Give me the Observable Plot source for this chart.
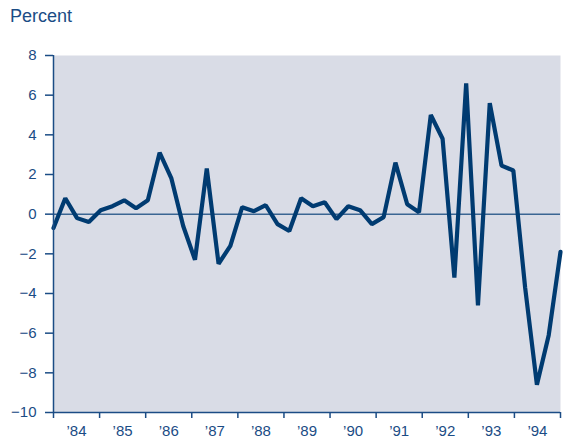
<!DOCTYPE html>
<html><head><meta charset="utf-8">
<script src="https://cdn.jsdelivr.net/npm/d3@7"></script>
<script src="https://cdn.jsdelivr.net/npm/@observablehq/plot@0.6"></script>
<style>
body{margin:0;background:#fff;font-family:"Liberation Sans",Arial,sans-serif}
#wrap{position:relative;width:563px;height:445px}
#title{position:absolute;left:10px;top:7px;font-size:18px;line-height:1;color:#1b4c85}
</style></head><body><div id="wrap"><div id="title">Percent</div></div>
<script>
const startYear = 1984, endYear = 1995;
// quarterly values, 1984 Q1 .. 1994 Q4 (percent)
const values = [-0.7, 0.8, -0.2, -0.4, 0.2, 0.4, 0.7, 0.3, 0.7, 3.1,
  1.8, -0.6, -2.3, 2.3, -2.5, -1.6, 0.35, 0.15, 0.45, -0.5,
  -0.85, 0.8, 0.4, 0.6, -0.25, 0.4, 0.2, -0.5, -0.15, 2.6,
  0.5, 0.1, 5.0, 3.8, -3.2, 6.6, -4.6, 5.6, 2.45, 2.2,
  -3.7, -8.6, -6.1, -1.9];
const yTicks = [-10, -8, -6, -4, -2, 0, 2, 4, 6, 8];
const yearTicks = [1984, 1985, 1986, 1987, 1988, 1989, 1990, 1991, 1992, 1993, 1994, 1995];
const yearLabels = ["’84", "’85", "’86", "’87", "’88", "’89", "’90", "’91", "’92", "’93", "’94"];

const navy = "#1b4c85";
const lineColor = "#003b71";
const pts = values.map((v, i) => ({x: startYear + i * (endYear - startYear) / (values.length - 1), v}));
const labels = yearLabels.map((t, i) => ({x: startYear + i + 0.5, t}));

const chart = Plot.plot({
  width: 563, height: 445,
  marginTop: 55, marginBottom: 33, marginLeft: 53, marginRight: 3,
  style: {fontFamily: "'Liberation Sans', Arial, sans-serif", fontSize: "15px", color: navy, background: "#fff"},
  x: {domain: [startYear, endYear], axis: null},
  y: {domain: [-10, 8], axis: null},
  marks: [
    Plot.frame({fill: "#d9dce6", stroke: null}),
    Plot.ruleY([0], {stroke: "#3a6592", strokeWidth: 1.5}),
    Plot.line(pts, {x: "x", y: "v", stroke: lineColor, strokeWidth: 4.2, strokeLinejoin: "miter"}),
    Plot.ruleX([startYear], {stroke: navy, strokeWidth: 1.5}),
    Plot.ruleY([-10], {stroke: navy, strokeWidth: 1.5}),
    Plot.axisY({ticks: yTicks, tickSize: 8, tickPadding: 9, stroke: navy, fill: navy, strokeWidth: 1.5, label: null,
      tickFormat: d => d < 0 ? "\u2212" + Math.abs(d) : String(d)}),
    Plot.axisX({ticks: yearTicks, tickSize: 6, stroke: navy, strokeWidth: 1.5, label: null, tickFormat: () => ""}),
    Plot.text(labels, {x: "x", text: "t", frameAnchor: "bottom", lineAnchor: "top", dy: 13, fill: navy, fontSize: 15})
  ]
});
document.getElementById("wrap").appendChild(chart);
</script>
</body></html>
